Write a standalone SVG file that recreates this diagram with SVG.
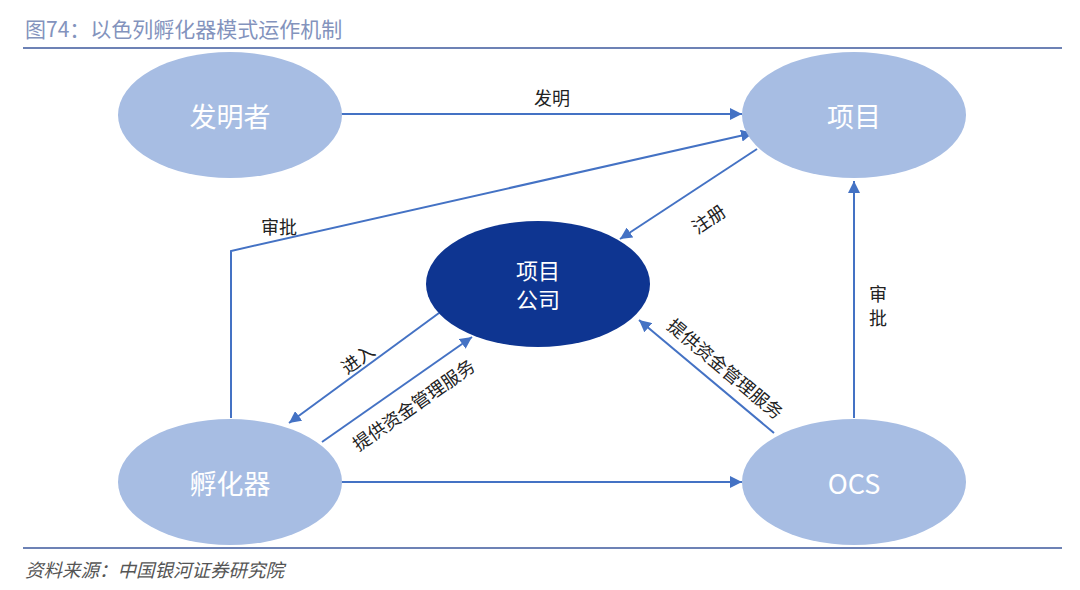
<svg xmlns="http://www.w3.org/2000/svg" width="1080" height="590" viewBox="0 0 1080 590">
<defs>
<marker id="ah" viewBox="0 0 10 10" refX="10" refY="5" markerWidth="6" markerHeight="6" orient="auto" markerUnits="strokeWidth">
<path d="M0,0 L10,5 L0,10 z" fill="#4472c4"/>
</marker>
<style>
.node{fill:#a7bde3;}
.dark{fill:#0e3591;}
.nt{font-family:"Noto Sans CJK SC","Noto Sans",sans-serif;fill:#ffffff;text-anchor:middle;dominant-baseline:central;}
.lbl{font-family:"Noto Sans CJK SC","Noto Sans",sans-serif;font-size:18px;fill:#222222;text-anchor:middle;dominant-baseline:central;}
.ln{stroke:#4472c4;stroke-width:2;fill:none;marker-end:url(#ah);}
</style>
</defs>
<rect width="1080" height="590" fill="#ffffff"/>
<text x="25" y="37" font-family="'Noto Sans CJK SC',sans-serif" font-size="21" fill="#8393bd">图74：以色列孵化器模式运作机制</text>
<line x1="23" y1="48" x2="1062" y2="48" stroke="#6d82b5" stroke-width="2"/>
<line x1="23" y1="548" x2="1062" y2="548" stroke="#6d82b5" stroke-width="2"/>
<text x="25" y="577" font-family="'Noto Sans CJK SC',sans-serif" font-size="18.5" fill="#555555" font-style="italic">资料来源：中国银河证券研究院</text>

<g id="connectors">
<line class="ln" x1="341" y1="114" x2="742" y2="114"/>
<text class="lbl" x="552" y="97">发明</text>
<polyline class="ln" points="231,418 231,251 753,133"/>
<text class="lbl" x="279" y="226">审批</text>
<line class="ln" x1="757" y1="149" x2="620" y2="239"/>
<text class="lbl" transform="translate(708,218) rotate(-34)">注册</text>
<line class="ln" x1="439" y1="313" x2="289" y2="423"/>
<text class="lbl" transform="translate(357,358) rotate(-36)">进入</text>
<line class="ln" x1="322" y1="442" x2="472" y2="337"/>
<text class="lbl" transform="translate(413,404) rotate(-35)">提供资金管理服务</text>
<line class="ln" x1="774" y1="433" x2="639" y2="320"/>
<text class="lbl" transform="translate(726,368) rotate(40)">提供资金管理服务</text>
<line class="ln" x1="854" y1="418" x2="854" y2="181"/>
<text class="lbl" x="878" y="293">审</text>
<text class="lbl" x="878" y="317">批</text>
<line class="ln" x1="341" y1="482" x2="742" y2="482"/>
</g>

<g id="inventor"><ellipse class="node" cx="230" cy="115" rx="112" ry="63"/><text class="nt" x="230" y="115" font-size="27">发明者</text></g>
<g id="project"><ellipse class="node" cx="854" cy="115" rx="112" ry="63"/><text class="nt" x="854" y="115" font-size="27">项目</text></g>
<g id="company"><ellipse class="dark" cx="538" cy="284" rx="112" ry="63"/><text class="nt" x="538" y="269" font-size="22">项目</text><text class="nt" x="538" y="298" font-size="22">公司</text></g>
<g id="incubator"><ellipse class="node" cx="230" cy="482" rx="112" ry="63"/><text class="nt" x="230" y="482" font-size="27">孵化器</text></g>
<g id="ocs"><ellipse class="node" cx="854" cy="482" rx="112" ry="63"/><text class="nt" x="854" y="482" font-size="27">OCS</text></g>
</svg>
